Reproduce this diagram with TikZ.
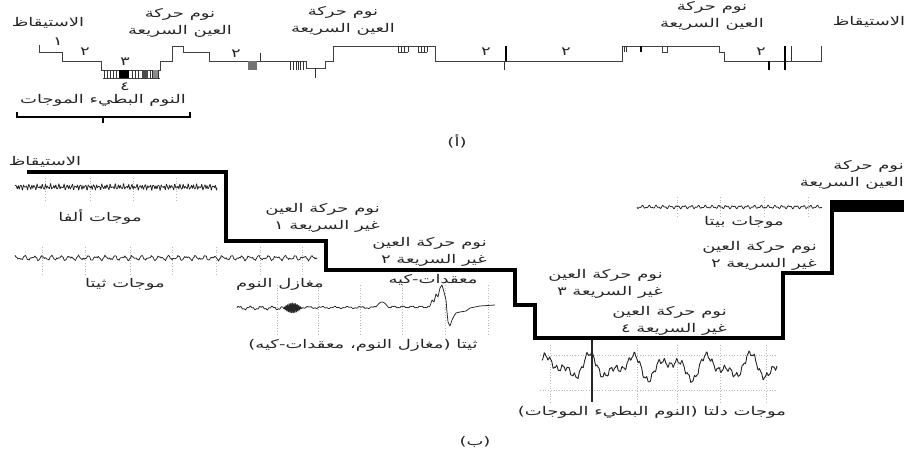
\documentclass[tikz,border=0pt]{standalone}
\usepackage{fontspec}
\newfontfamily\arabicfont[Script=Arabic,FakeStretch=1.5]{DejaVu Sans}
\TeXXeTstate=1
\newcommand{\AR}[1]{\beginR #1\endR}
\tikzset{
  hyp/.style={line width=0.6pt, black!75},
  tickbar/.style={line width=0.8pt, black!80},
  stepline/.style={line width=4pt, black, line join=miter},
  gridl/.style={gray!55, dotted, line width=0.7pt},
  eeg/.style={line width=0.75pt, black!85, line join=round},
  lbl/.style={font=\arabicfont\fontsize{12}{17}\selectfont, align=center, inner sep=0pt, text=black!85},
  lblr/.style={lbl, align=right, anchor=east},
}
\begin{document}
\begin{tikzpicture}[x=1pt,y=-1pt]
\useasboundingbox (0,0) rectangle (919,457);

% ---------------- (a) hypnogram ----------------
\draw[hyp] (39,45) -- (39,52) -- (62,52) -- (62,61) -- (101,61) -- (101,70) -- (160,70)
  -- (160,61) -- (172,61) -- (172,46) -- (183,46) -- (183,52) -- (209,52) -- (209,61)
  -- (306,61) -- (306,68) -- (325,68) -- (325,61) -- (333,61) -- (333,46) -- (435,46)
  -- (435,61) -- (622,61) -- (622,46) -- (719,46) -- (719,52) -- (724,52) -- (724,61)
  -- (821,61) -- (821,46);
\draw[hyp] (103,78) -- (160,78);
\foreach \x in {104,107,110,113,116,132,135,138,150,152,158}
  \draw[tickbar] (\x,70) -- (\x,78);
\fill[black] (119,70) rectangle (129,78);
\fill[black!70] (142,70) rectangle (148,78);
\fill[black!45] (153,70) rectangle (158,78);
% stage 2 bursts
\fill[black!55] (248,61) rectangle (257,70);
\draw[tickbar] (260,53) -- (260,61);
\foreach \x in {290,293,296,298,300,303}
  \draw[tickbar] (\x,61) -- (\x,70);
\draw[tickbar] (315,68) -- (315,78);
% REM ticks
\foreach \x in {398,401,404,408,418,421,424,427}
  \draw[tickbar] (\x,46) -- (\x,52);
\draw[hyp] (398,52) -- (408,52) (418,52) -- (427,52);
\draw[line width=1.6pt] (506,46) -- (506,61);
\draw[tickbar] (504,61) -- (504,70);
\foreach \x in {622,624,626}
  \draw[tickbar] (\x,46) -- (\x,52);
\draw[line width=1.2pt] (641,46) -- (641,52);
\draw[hyp] (662,46) -- (662,52) -- (667,52) -- (667,46);
\draw[line width=1.2pt] (769,61) -- (769,70);
\draw[line width=1.8pt] (785,46) -- (785,70);
\draw[tickbar] (791,46) -- (791,61);
% bracket
\draw[line width=1.6pt] (17,112) -- (17,117) -- (190,117) -- (190,112);
\draw[line width=2pt] (103,117) -- (103,123);

% labels (a)
\node[lbl] (wakeA) at (48,23) {\AR{الاستيقاظ}};
\node[lbl] (stA1) at (58,42) {\AR{١}};
\node[lbl] (stA2) at (85,52) {\AR{٢}};
\node[lbl] (stA3) at (125,62) {\AR{٣}};
\node[lbl] (stA4) at (125,87) {\AR{٤}};
\node[lbl] (swsA) at (103,100) {\AR{النوم البطيء الموجات}};
\node[lbl] (remA1) at (180,23) {\AR{نوم حركة}\\\AR{العين السريعة}};
\node[lbl] (remA2) at (343,21) {\AR{نوم حركة}\\\AR{العين السريعة}};
\node[lbl] (remA3) at (712,16) {\AR{نوم حركة}\\\AR{العين السريعة}};
\node[lbl] (stA5) at (236,54) {\AR{٢}};
\node[lbl] (stA6) at (486,52) {\AR{٢}};
\node[lbl] (stA7) at (566,52) {\AR{٢}};
\node[lbl] (stA8) at (761,52) {\AR{٢}};
\node[lbl] (wakeA2) at (869,22) {\AR{الاستيقاظ}};
\node[lbl] (capA) at (457,141) {\AR{(أ)}};

% ---------------- (b) stepped diagram ----------------
\draw[stepline] (27,172) -- (226,172) -- (226,241) -- (326,241) -- (326,270) -- (515,270)
  -- (515,305) -- (535,305) -- (535,338) -- (783,338) -- (783,273) -- (832,273) -- (832,204);
\fill[black] (830,200) rectangle (904,212);

% grids
\foreach \x in {45,90,133,176} \draw[gridl] (\x,178) -- (\x,200);
\foreach \x in {42,85,130,172,216,260,302} \draw[gridl] (\x,247) -- (\x,275);
\foreach \x in {277,318,360,402,445,488} \draw[gridl] (\x,285) -- (\x,335);
\foreach \x in {677,720,764,808} \draw[gridl] (\x,197) -- (\x,218);
\foreach \x in {550,637,677,720,766} \draw[gridl] (\x,345) -- (\x,402);
\draw[gridl] (540,355) -- (777,355);
\draw[gridl] (540,390) -- (777,390);
\draw[line width=1.4pt, black!85] (592,340) -- (592,402);

% alpha
\draw[eeg] plot[domain=15:217, samples=420]
  (\x, {187 + 1.6*sin(360*frac(\x/2.7)) + 1.1*sin(360*frac(\x/4.3)) + 0.9*sin(360*frac(\x/1.7))});
% theta
\draw[eeg] plot[domain=15:317, samples=320]
  (\x, {258 + 1.6*sin(360*frac(\x/9)) + 1.0*sin(360*frac(\x/5.3)) + 0.6*sin(360*frac(\x/2.2))});
% spindles and K-complex
\draw[eeg] plot[domain=237:283, samples=60]
  (\x, {308 + 1.4*sin(360*frac(\x/11)) + 0.7*sin(360*frac(\x/3.1))});
\draw[eeg, line width=0.9pt] plot[domain=283:302, samples=90]
  (\x, {308 + 5*sin(360*frac(\x/1.6))*sin(180*(\x-283)/19)});
\draw[eeg] plot[domain=302:376, samples=80]
  (\x, {307.5 + 0.8*sin(360*frac(\x/13)) + 0.5*sin(360*frac(\x/4))});
\draw[eeg] plot[domain=376:388, samples=20]
  (\x, {307 - 5*sin(180*(\x-376)/12)});
\draw[eeg] plot[domain=388:430, samples=50]
  (\x, {307 + 0.8*sin(360*frac(\x/9)) + 0.4*sin(360*frac(\x/3))});
\draw[eeg] plot coordinates {(430,306) (432,300) (434,302) (436,294) (438,297) (440,288)
  (442,285) (444,292) (446,300) (447,312) (448,322) (450,326) (452,320) (454,316)
  (456,313) (460,312) (466,311) (470,308) (480,306) (495,305)};
% beta
\draw[eeg] plot[domain=637:822, samples=260]
  (\x, {207 + 1.1*sin(360*frac(\x/7)) + 0.8*sin(360*frac(\x/3.3))});
% delta
\draw[eeg, line width=0.9pt] plot[domain=542:777, samples=320]
  (\x, {367 + 8*sin(360*frac(\x/40)) + 6*sin(360*frac(\x/23)+40) + 2.5*sin(360*frac(\x/6)) + 1*sin(360*frac(\x/2.5))});

% labels (b)
\node[lbl] (wakeB) at (45,162) {\AR{الاستيقاظ}};
\node[lbl] (alphaL) at (100,217) {\AR{موجات ألفا}};
\node[lbl] (thetaL) at (125,284) {\AR{موجات ثيتا}};
\node[lbl] (spinL) at (280,284) {\AR{مغازل النوم}};
\node[lblr] (nrem1) at (380,218) {\AR{نوم حركة العين}\\\AR{غير السريعة ١}};
\node[lblr] (nrem2) at (487,252) {\AR{نوم حركة العين}\\\AR{غير السريعة ٢}};
\node[lbl] (kcL) at (433,280) {\AR{معقدات-كيه}};
\node[lbl] (thetaSK) at (363,345) {\AR{ثيتا (مغازل النوم، معقدات-كيه)}};
\node[lblr] (nrem3) at (663,284) {\AR{نوم حركة العين}\\\AR{غير السريعة ٣}};
\node[lblr] (nrem4) at (727,321) {\AR{نوم حركة العين}\\\AR{غير السريعة ٤}};
\node[lblr] (nrem2b) at (817,256) {\AR{نوم حركة العين}\\\AR{غير السريعة ٢}};
\node[lblr] (remB) at (904,175) {\AR{نوم حركة}\\\AR{العين السريعة}};
\node[lbl] (betaL) at (744,222) {\AR{موجات بيتا}};
\node[lbl] (deltaL) at (652,412) {\AR{موجات دلتا (النوم البطيء الموجات)}};
\node[lbl] (capB) at (475,442) {\AR{(ب)}};
\end{tikzpicture}
\end{document}
